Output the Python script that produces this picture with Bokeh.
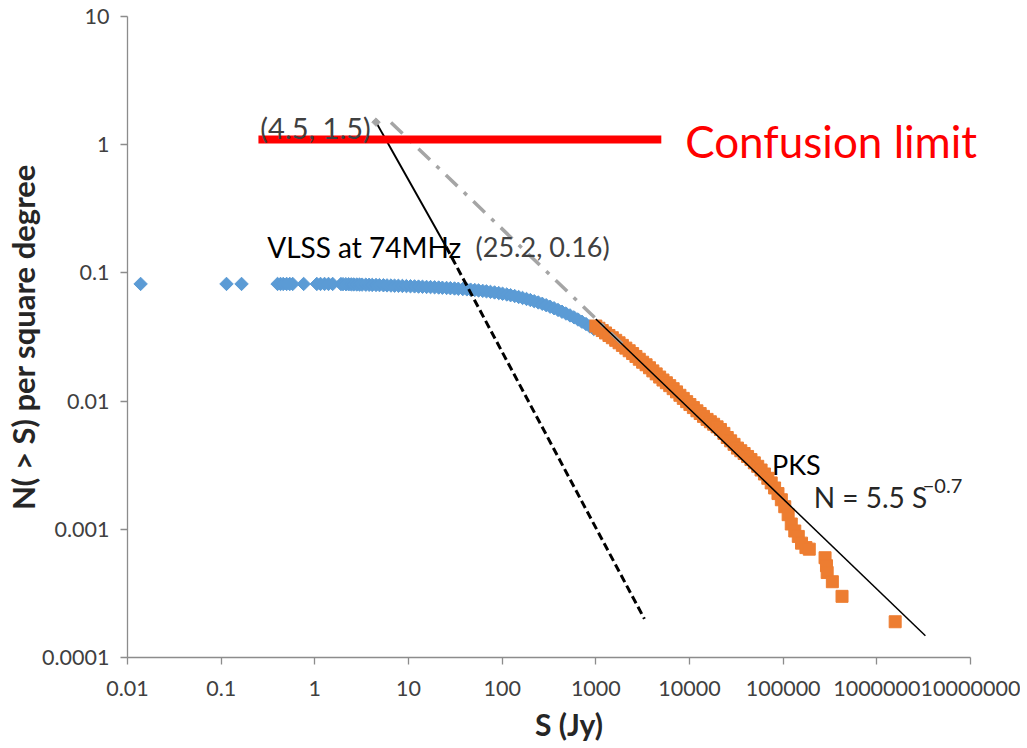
from bokeh.plotting import figure
from bokeh.models import Range1d, FixedTicker, CustomJSTickFormatter, Label
from bokeh.embed import file_html
from bokeh.resources import INLINE

# ---------------- data ----------------
x_ticks = [0.01, 0.1, 1, 10, 100, 1000, 10000, 100000, 1000000, 10000000]
x_tick_labels = ["0.01", "0.1", "1", "10", "100", "1000", "10000", "100000",
                 "1000000", "10000000"]
y_ticks = [0.0001, 0.001, 0.01, 0.1, 1, 10]
y_tick_labels = ["0.0001", "0.001", "0.01", "0.1", "1", "10"]

# VLSS at 74 MHz (blue diamonds)
vlss_s = [0.0138, 0.114, 0.165, 0.40, 0.43, 0.46, 0.50, 0.54, 0.58, 0.76,
          1.05, 1.15, 1.27, 1.40, 1.55,
          1.9, 2.0, 2.15, 2.3, 2.45, 2.6, 2.8, 3.0, 3.2, 3.5,
          3.8, 4.1, 4.5, 4.9, 5.4, 5.9, 6.5, 7.1, 7.8, 8.6,
          9.5, 10.5, 11.6, 12.8, 14.1, 15.6, 17.2, 19, 21, 23,
          25.5, 28, 31, 34, 38, 42, 46, 51, 56, 62,
          68, 75, 83, 92, 101, 112, 123, 136, 150, 165,
          182, 200, 220, 243, 268, 295, 325, 358, 395, 435,
          480, 530, 585, 645, 710, 785, 865, 950]
vlss_n = [0.082, 0.082, 0.082, 0.082, 0.082, 0.082, 0.082, 0.082, 0.082, 0.082,
          0.082, 0.082, 0.082, 0.082, 0.082,
          0.0818, 0.0817, 0.0816, 0.0815, 0.0814, 0.0813, 0.0812, 0.0811, 0.081, 0.0809,
          0.0808, 0.0806, 0.0805, 0.0803, 0.0801, 0.0799, 0.0797, 0.0795, 0.0793, 0.0791,
          0.0789, 0.0787, 0.0785, 0.0782, 0.078, 0.0777, 0.0775, 0.0772, 0.0769, 0.0766,
          0.0763, 0.076, 0.0756, 0.0752, 0.0748, 0.0744, 0.074, 0.0735, 0.073, 0.0724,
          0.0718, 0.0711, 0.0704, 0.0696, 0.0688, 0.0679, 0.067, 0.066, 0.0649, 0.0638,
          0.0626, 0.0614, 0.0601, 0.0588, 0.0574, 0.056, 0.0545, 0.053, 0.0514, 0.0498,
          0.0482, 0.0466, 0.045, 0.0433, 0.0416, 0.0399, 0.0382, 0.0365]

# PKS (orange squares)
pks_s = [1000, 1080, 1170, 1270, 1380, 1500, 1630, 1770, 1920, 2090,
         2270, 2470, 2680, 2910, 3160, 3440, 3740, 4060, 4410, 4800,
         5210, 5660, 6150, 6690, 7270, 7900, 8580, 9330, 10100, 11000,
         12000, 13000, 14100, 15400, 16700, 18100, 19700, 21400, 23300, 25300,
         27500, 29900, 32500, 35300, 38300, 41700, 45300, 49200, 53500, 58100,
         63100, 68600, 74500, 81000, 88000, 95600, 104000, 113000, 122000, 133000,
         145000, 157000, 175000, 190000, 280000, 290000, 295000, 335000, 425000, 1570000]
pks_n = [0.0385, 0.0370, 0.0355, 0.0340, 0.0325, 0.0312, 0.0298, 0.0285, 0.0272, 0.0259,
         0.0247, 0.0235, 0.0223, 0.0212, 0.0201, 0.0192, 0.0182, 0.0172, 0.0163, 0.0154,
         0.0146, 0.0139, 0.0132, 0.0125, 0.0118, 0.0111, 0.0105, 0.0099, 0.0094, 0.0089,
         0.0084, 0.0080, 0.0076, 0.0072, 0.0069, 0.0066, 0.0063, 0.0060, 0.0056, 0.0052,
         0.0049, 0.0046, 0.0043, 0.0041, 0.0039, 0.0037, 0.0035, 0.0033, 0.0031, 0.0029,
         0.0027, 0.0025, 0.0023, 0.0021, 0.0019, 0.0017, 0.0015, 0.0013, 0.0011, 0.00097,
         0.00088, 0.00078, 0.00072, 0.00070, 0.00060, 0.00052, 0.00046, 0.00039, 0.00030, 0.00019]

# N = 5.5 S^-0.7 fit (thin black) and its extension (grey dash-dot)
fit_s = [1000, 3300000]
fit_n = [0.0437, 0.000148]
ext_s = [6.5, 2200]
ext_n = [1.49, 0.0253]

# steep line through (4.5, 1.5) and (25.2, 0.16)
steep_s = [4.5, 25.2]
steep_n = [1.5, 0.16]
steep_dash_s = [25.2, 3300]
steep_dash_n = [0.16, 0.0002]

# confusion limit
conf_s = [0.25, 5000]
conf_n = [1.1, 1.1]

# axis extent (x axis drawn 0.01 .. 1e7; frame continues a little further
# to the right so that the "Confusion limit" label is not clipped)
X_AXIS_START, X_AXIS_END = 0.01, 1e7
X_FRAME_END = 10 ** 7.427

# ---------------- figure ----------------
p = figure(width=1020, height=746, x_axis_type="log", y_axis_type="log",
           x_range=Range1d(X_AXIS_START, X_FRAME_END), y_range=Range1d(1e-4, 10),
           output_backend="svg", toolbar_location=None,
           min_border_left=127, min_border_right=10,
           min_border_top=16, min_border_bottom=89)
p.grid.visible = False
p.outline_line_color = None

fmt_code = """
let best = 0, bd = 1e99;
for (let i = 0; i < ticks_v.length; i++) {
  const d = Math.abs(Math.log10(tick) - Math.log10(ticks_v[i]));
  if (d < bd) { bd = d; best = i; }
}
return labels[best];
"""
p.xaxis.ticker = FixedTicker(ticks=x_ticks)
p.yaxis.ticker = FixedTicker(ticks=y_ticks)
p.xaxis.formatter = CustomJSTickFormatter(args=dict(ticks_v=x_ticks, labels=x_tick_labels), code=fmt_code)
p.yaxis.formatter = CustomJSTickFormatter(args=dict(ticks_v=y_ticks, labels=y_tick_labels), code=fmt_code)
p.xaxis.bounds = (X_AXIS_START, X_AXIS_END)

for ax in (p.xaxis[0], p.yaxis[0]):
    ax.axis_line_color = "#8c8c8c"
    ax.axis_line_width = 1.3
    ax.major_tick_line_color = "#8c8c8c"
    ax.major_tick_line_width = 1.3
    ax.major_tick_in = 0
    ax.major_tick_out = 7
    ax.minor_tick_line_color = None
    ax.major_label_text_font = "Lato"
    ax.major_label_text_font_size = "21.5px"
    ax.major_label_text_color = "#404040"
    ax.axis_label_text_font = "Lato"
    ax.axis_label_text_font_style = "bold"
    ax.axis_label_text_font_size = "30px"
    ax.axis_label_text_color = "#262626"

p.yaxis.axis_label_text_font_size = "31px"
p.xaxis.axis_label = "S (Jy)"
p.yaxis.axis_label = "N( > S) per square degree"
p.xaxis.major_label_standoff = 16
p.yaxis.major_label_standoff = 11
p.xaxis.axis_label_standoff = 7
p.yaxis.axis_label_standoff = -3

# data markers
p.scatter(vlss_s, vlss_n, marker="square", angle=0.785, size=9.5,
          fill_color="#5B9BD5", line_color="#5B9BD5")
p.scatter(pks_s, pks_n, marker="square", size=12,
          fill_color="#ED7D31", line_color="#ED7D31")

# lines
p.line(ext_s, ext_n, line_color="#A5A5A5", line_width=3.5, line_dash="16 9 4 9")
p.line(fit_s, fit_n, line_color="#000000", line_width=1.5)
p.line(steep_s, steep_n, line_color="#000000", line_width=2)
p.line(steep_dash_s, steep_dash_n, line_color="#000000", line_width=3, line_dash="8 4")
p.scatter([steep_s[0]], [steep_n[0]], marker="square", angle=0.785, size=6,
          fill_color="#A5A5A5", line_color="#A5A5A5")
p.line(conf_s, conf_n, line_color="#FF0000", line_width=8)

# annotations
def label(x, y, t, size, color, xo=0, yo=0):
    p.add_layout(Label(x=x, y=y, text=t, text_font="Lato", text_font_size=size,
                       text_color=color, text_align="left", text_baseline="middle",
                       x_offset=xo, y_offset=yo))

label(0.262, 1.36, "(4.5, 1.5)", "29px", "#404040")
label(9000, 1.07, "Confusion limit", "44px", "#FF0000")
label(0.31, 0.16, "VLSS at 74MHz", "28px", "#000000")
label(52, 0.16, "(25.2, 0.16)", "27px", "#404040")
label(76000, 0.0032, "PKS", "27px", "#000000")
label(212000, 0.00178, "N = 5.5 S", "28px", "#262626")
label(212000, 0.00178, "\u2212" + "0.7", "20px", "#262626", xo=109, yo=11)

open("out.html", "w").write(file_html(p, INLINE))
